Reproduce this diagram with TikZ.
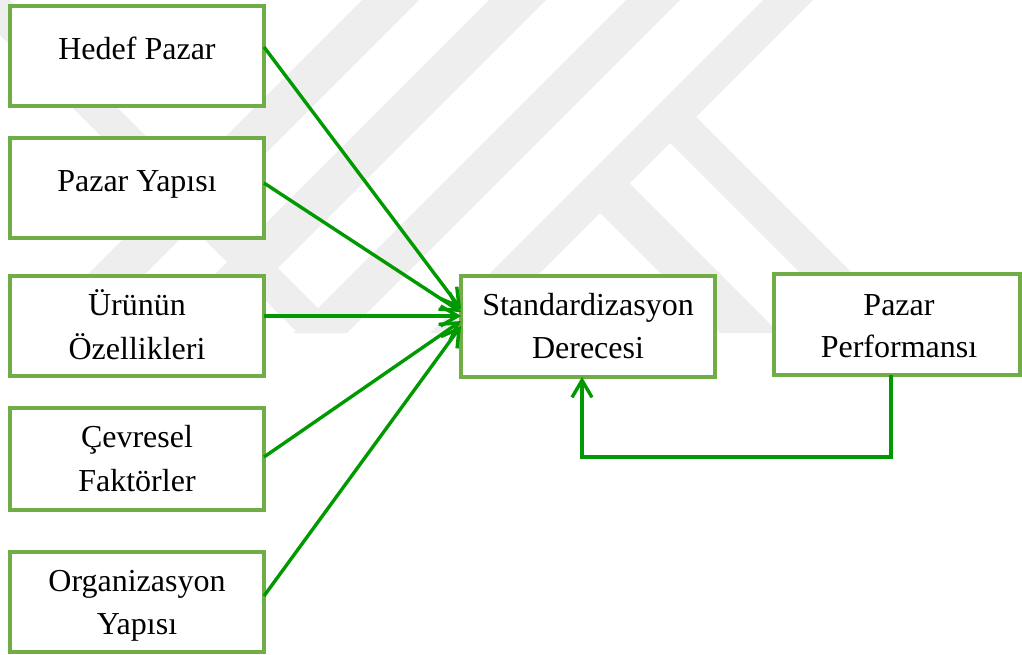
\documentclass[tikz,border=0pt]{standalone}
\usepackage{fontspec}
\setmainfont{Liberation Serif}
\usetikzlibrary{arrows.meta,calc}
\definecolor{boxgreen}{RGB}{112,173,71}
\definecolor{arrgreen}{RGB}{0,153,0}
\definecolor{wm}{RGB}{238,238,238}
\begin{document}
\begin{tikzpicture}[x=0.5pt,y=-0.5pt,
  box/.style={draw=boxgreen, line width=1.6pt, fill=white, rectangle, inner sep=0pt, outer sep=0pt, minimum width=127pt, minimum height=50pt},
  lbl/.style={anchor=base, font=\fontsize{16}{19}\selectfont, inner sep=0pt},
  arr/.style={draw=arrgreen, line width=1.7pt, -{Straight Barb[length=8.5pt,width=10pt]}}]
\useasboundingbox (0,0) rectangle (1022,654);
% watermark
\begin{scope}
  \clip (0,0) rectangle (1022,333);
  \fill[wm] (362,0) -- (419,0) -- (86,333) -- (29,333) -- cycle;
  \fill[wm] (489,0) -- (546,0) -- (213,333) -- (156,333) -- cycle;
  \fill[wm] (626,0) -- (680,0) -- (347,333) -- (293,333) -- cycle;
  \fill[wm] (763,0) -- (813,0) -- (480,333) -- (430,333) -- cycle;
  \fill[wm] (696,117) -- (912,333) -- (860,333) -- (670,143) -- cycle;
  \fill[wm] (629.5,183.5) -- (779,333) -- (720,333) -- (600,213) -- cycle;
  \fill[wm] (-35,0) -- (10,0) -- (343,333) -- (298,333) -- cycle;
\end{scope}
% boxes
\node[box] (hedef) at (137,56) {};
\node[box] (yapi) at (137,188) {};
\node[box] (urun) at (137,326) {};
\node[box, minimum height=51pt] (cevre) at (137,459) {};
\node[box] (org) at (137,602) {};
\node[box, minimum height=50.5pt] (std) at (588,326.5) {};
\node[box, minimum width=123pt, minimum height=50.5pt] (perf) at (897,324.5) {};
% texts
\node[lbl] (hedefT) at (137,59) {Hedef Pazar};
\node[lbl] (yapiT) at (137,191) {Pazar Yapısı};
\node[lbl] (urunTa) at (137,315) {Ürünün};
\node[lbl] (urunTb) at (137,359) {Özellikleri};
\node[lbl] (cevreTa) at (137,447) {Çevresel};
\node[lbl] (cevreTb) at (137,491) {Faktörler};
\node[lbl] (orgTa) at (137,591) {Organizasyon};
\node[lbl] (orgTb) at (137,634) {Yapısı};
\node[lbl] (stdTa) at (588,315) {Standardizasyon};
\node[lbl] (stdTb) at (588,358) {Derecesi};
\node[lbl] (perfTa) at (899,315) {Pazar};
\node[lbl] (perfTb) at (899,357) {Performansı};
% connectors
\draw[arr] ($(hedef.east)+(0,-9)$) -- ($(std.west)+(0,-17.5)$);
\draw[arr] ($(yapi.east)+(0,-5)$) -- ($(std.west)+(0,-14.5)$);
\draw[arr] ($(urun.east)+(0,-10)$) -- ($(std.west)+(0,-10.5)$);
\draw[arr] ($(cevre.east)+(0,-2)$) -- ($(std.west)+(0,-5.5)$);
\draw[arr] ($(org.east)+(0,-6)$) -- ($(std.west)+(0,-0.5)$);
\draw[arr] ($(perf.south)+(-6,0)$) -- ++(0,82) -| ($(std.south)+(-6,0)$);
\end{tikzpicture}
\end{document}
